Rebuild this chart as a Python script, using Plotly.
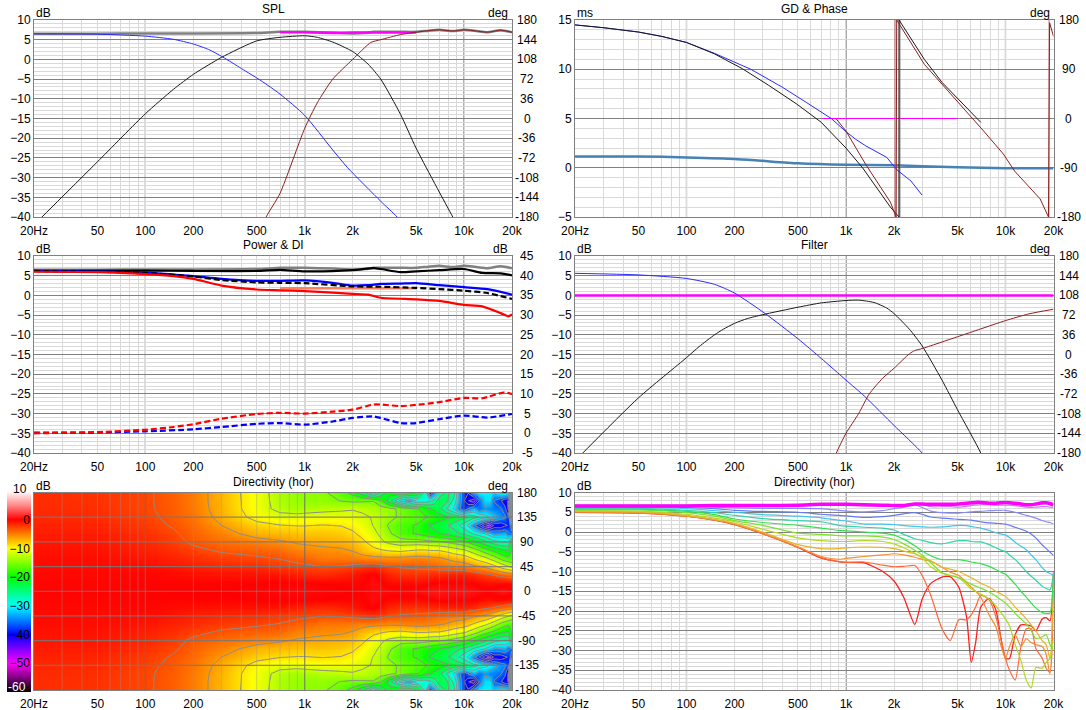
import math
import plotly.graph_objects as go

W, H = 1086, 710
FONT = "Liberation Sans"

X_TICKS = [20, 50, 100, 200, 500, 1000, 2000, 5000, 10000, 20000]
X_LABELS = ["20Hz", "50", "100", "200", "500", "1k", "2k", "5k", "10k", "20k"]
X_DECADES = [100, 1000, 10000]
X_MINOR = [30, 40, 60, 70, 80, 90, 300, 400, 600, 700, 800, 900,
           3000, 4000, 6000, 7000, 8000, 9000]

DB_TICKS = [10, 5, 0, -5, -10, -15, -20, -25, -30, -35, -40]
MS_TICKS = [15, 10, 5, 0, -5]
DEG_TICKS = [180, 144, 108, 72, 36, 0, -36, -72, -108, -144, -180]
DEG90_TICKS = [180, 90, 0, -90, -180]
DI_TICKS = [45, 40, 35, 30, 25, 20, 15, 10, 5, 0, -5]
DEG45_TICKS = [180, 135, 90, 45, 0, -45, -90, -135, -180]
CB_TICKS = [0, -10, -20, -30, -40, -50]

# SPL panel
TOTAL_F = [20, 50, 100, 200, 500, 700, 1000, 1500, 2000, 2400, 2700, 3000, 4000, 5000, 6000, 7000, 8500, 10000, 12000, 14000, 17000, 20000]
TOTAL = [6.5, 6.5, 6.6, 6.6, 6.7, 7.0, 7.0, 6.8, 6.6, 6.7, 7.0, 7.0, 7.0, 7.0, 7.3, 7.5, 7.2, 7.5, 7.2, 6.9, 7.4, 6.9]
SUM_F = [700, 1000, 1500, 2000, 3000, 5000]
SUM = [6.9, 6.9, 6.7, 6.8, 6.8, 6.8]
WOOF_F = [20, 50, 100, 150, 200, 250, 306, 400, 532, 700, 1000, 1500, 1860, 3000, 3800, 4500]
WOOF = [6.5, 6.4, 5.9, 5.1, 3.9, 2.5, 0.6, -2.3, -5.4, -8.8, -14.2, -23, -27.5, -36, -40, -44]
MID_F = [20, 50, 100, 150, 200, 300, 500, 700, 1000, 1200, 1500, 2000, 2500, 3000, 4000, 5000, 8500, 10000]
MID = [-42, -26, -13.8, -7.6, -3.8, 0.5, 4.7, 5.6, 6.0, 5.6, 4.4, 2.0, -1.2, -5.0, -14, -22.5, -40, -45]
TW_F = [500, 573, 700, 1000, 1200, 1500, 2000, 2600, 3000, 4000, 5000, 6000, 7000, 8500, 10000, 12000, 14000, 17000, 20000]
TW = [-46, -40, -34, -17.5, -11, -5, 0, 4.3, 5.0, 6.3, 6.9, 7.3, 7.5, 7.2, 7.5, 7.2, 6.9, 7.4, 6.9]

# GD & Phase panel
GD_F = [20, 50, 100, 200, 300, 500, 1000, 2000, 3000, 5000, 10000, 20000]
GD = [1.15, 1.15, 1.05, 0.9, 0.7, 0.45, 0.3, 0.25, 0.15, 0.05, -0.05, -0.05]
PH_BLUE_F = [20, 30, 50, 70, 100, 150, 253, 400, 567, 808, 1000, 1150, 1330, 1800, 2090, 2550, 3000]
PH_BLUE = [171, 166, 158, 150, 139, 119, 90, 57, 29, 0, -24, -38, -50, -71, -94, -114, -140]
PH_BLACK_F = [20, 30, 50, 70, 100, 150, 224, 326, 488, 700, 1000, 1270, 1900, 2150, 2151, 3100, 4000, 7000]
PH_BLACK = [171, 166, 158, 150, 139, 118, 91, 61, 27, -7, -54, -90, -162, -180, 180, 108, 66, -7]
PH_BROWN_F = [865, 1000, 1330, 1900, 2060, 2080, 3100, 5200, 7300, 9700, 11400, 16500, 18600, 18900, 20000]
PH_BROWN = [0, -23, -84, -153, -180, 180, 99, 26, -23, -65, -96, -147, -180, 175, 150]
PH_SUM_F = [711, 5000]
PH_SUM = [0, 0]
PH_WRAP_F = [2040, 2040]
PH_WRAP2_F = [2170, 2170]
PH_WRAP3_F = [18750, 18750]
PH_WRAP = [-180, 180]

# Power & DI panel
PW_BLACK_F = [20, 100, 200, 500, 700, 1000, 2000, 2700, 3000, 4000, 5000, 7000, 10000, 13000, 17000, 20000]
PW_BLACK = [6.2, 6.3, 6.2, 6.2, 6.5, 6.1, 6.4, 6.9, 6.7, 5.9, 6.1, 6.4, 6.7, 5.7, 5.6, 5.1]
PW_BLUE_F = [20, 100, 150, 200, 300, 500, 700, 1000, 1500, 2000, 2500, 3000, 4000, 5000, 7000, 10000, 14000, 20000]
PW_BLUE = [6.2, 5.8, 5.3, 4.9, 4.2, 3.7, 3.7, 3.8, 3.2, 2.5, 2.6, 2.9, 3.0, 3.1, 2.6, 2.1, 1.6, 0.2]
PW_DASH_F = [20, 100, 200, 300, 500, 700, 1000, 2000, 3000, 5000, 7000, 10000, 14000, 20000]
PW_DASH = [6.2, 5.7, 4.8, 3.9, 3.3, 3.2, 3.1, 2.3, 2.2, 1.9, 1.6, 1.2, 0.6, -0.9]
PW_RED_F = [20, 50, 100, 150, 200, 300, 500, 700, 1000, 2000, 2500, 3000, 5000, 7000, 10000, 13000, 17000, 19000, 20000]
PW_RED = [6.0, 5.9, 5.4, 4.9, 4.2, 2.5, 1.5, 1.3, 1.1, 0.4, 0.2, -0.6, -1.0, -1.4, -2.4, -2.8, -4.5, -5.3, -4.8]
PW_SALMON_F = [700, 5000]
PW_SALMON = [1.8, 1.8]
DI_RED_F = [20, 50, 100, 150, 200, 300, 500, 700, 1000, 1500, 2000, 2700, 3000, 4000, 5000, 7000, 10000, 13000, 18000, 20000]
DI_RED = [0, 0.3, 0.9, 1.6, 2.3, 3.7, 4.9, 5.2, 5.0, 5.5, 6.0, 7.3, 7.3, 6.9, 7.2, 7.9, 9.0, 8.9, 10.4, 9.9]
DI_BLUE_F = [20, 50, 100, 200, 300, 500, 700, 1000, 1500, 2000, 2700, 3000, 4000, 5000, 7000, 10000, 14000, 20000]
DI_BLUE = [0.2, 0.2, 0.5, 1.0, 1.6, 2.4, 2.6, 2.2, 3.0, 3.9, 4.3, 3.9, 2.6, 2.6, 3.6, 4.5, 4.0, 4.9]

# Filter panel
FL_BLUE_F = [20, 50, 100, 150, 200, 311, 500, 700, 1000, 1300, 2000, 3000, 3500]
FL_BLUE = [5.6, 5.2, 4.3, 2.8, 0.6, -4.6, -11, -16, -21.5, -25.5, -33, -40, -44]
FL_BLACK_F = [20, 50, 100, 120, 150, 170, 200, 240, 300, 500, 700, 1000, 1200, 1500, 1800, 2000, 2500, 3000, 4000, 5000, 7000, 8000]
FL_BLACK = [-42, -26, -15.8, -13, -10, -8.6, -7.1, -5.9, -4.9, -3, -1.9, -1.3, -1.2, -1.8, -3.2, -4.6, -8.6, -12.8, -21.5, -29, -40, -46]
FL_BROWN_F = [800, 870, 1000, 1200, 1400, 1700, 2000, 2500, 2700, 3000, 5000, 7000, 10000, 14000, 20000]
FL_BROWN = [-44, -40, -35, -30, -25, -21, -18.5, -14.8, -14, -13.5, -10.5, -8.5, -6.4, -4.7, -3.5]
FL_FLAT_F = [20, 20000]
FL_FLAT = [0, 0]

# Directivity: one curve per angle, all on the same frequencies
DIR_F = [20, 50, 100, 150, 200, 300, 500, 700, 900, 1000, 1300, 1700, 2000, 2300, 2700, 3000, 3400, 4000, 4500,
         5100, 5700, 6100, 6500, 7000, 7900, 8700, 9400, 10000, 10600, 11500, 12500, 13500, 14500, 15500, 17000, 18000, 19000, 20000]
DIR_ANGLES = [0, 15, 30, 45, 60, 75, 90, 105, 120, 135, 150, 165, 180]
DIR_0 = [6.6, 6.6, 6.6, 6.7, 6.7, 6.7, 6.8, 7.0, 7.0, 7.0, 6.9, 6.8, 6.7, 6.7, 7.1, 7.1, 7.0, 7.0, 7.0, 7.1, 7.3, 7.4, 7.5, 7.5, 7.3, 7.3, 7.4, 7.5, 7.4, 7.3, 7.1, 6.9, 6.9, 7.1, 7.4, 7.4, 7.2, 6.9]
DIR_15 = [6.5, 6.5, 6.6, 6.6, 6.6, 6.6, 6.7, 6.8, 6.8, 6.8, 6.7, 6.6, 6.5, 6.6, 7.2, 6.9, 6.4, 6.4, 6.4, 6.3, 6.5, 6.7, 6.8, 6.9, 6.9, 6.8, 6.8, 6.8, 6.8, 6.7, 6.5, 6.3, 6.2, 6.3, 6.4, 6.4, 6.3, 6.2]
DIR_30 = [6.4, 6.4, 6.5, 6.3, 6.1, 6.0, 6.0, 5.9, 5.5, 5.3, 5.1, 5.4, 5.9, 6.3, 6.9, 6.2, 5.3, 4.9, 4.8, 4.8, 5.0, 5.1, 5.2, 5.2, 5.4, 5.5, 5.5, 5.5, 5.3, 5.0, 4.6, 4.2, 3.9, 3.5, 2.9, 2.6, 2.4, 2.1]
DIR_45 = [6.3, 6.3, 6.2, 5.9, 5.5, 5.2, 5.0, 4.5, 4.2, 4.1, 3.7, 3.9, 4.2, 4.6, 4.9, 4.5, 3.8, 3.5, 3.4, 3.2, 3.1, 3.0, 2.8, 2.6, 2.3, 2.2, 2.1, 2.0, 1.7, 1.2, 0.7, 0.2, -0.5, -1.5, -3.3, -4.2, -5.1, -6.0]
DIR_60 = [6.2, 6.2, 5.9, 5.4, 5.0, 4.4, 4.0, 3.6, 3.0, 2.8, 2.0, 2.0, 1.9, 1.6, 1.4, 1.3, 1.2, 1.3, 1.5, 1.7, 1.6, 1.4, 1.2, 1.0, 0.4, -0.2, -0.5, -0.8, -1.4, -2.6, -3.6, -4.5, -5.8, -7, -9, -10, -10.5, -10.9]
DIR_75 = [6.0, 6.0, 5.5, 4.9, 4.2, 3.4, 2.9, 2.6, 1.7, 1.5, 1.2, 1.0, 0.5, -0.6, -1.7, -2.1, -2.7, -3, -2.6, -2.2, -2.2, -2.4, -2.5, -2.5, -3.2, -4, -4.6, -5, -5.8, -7, -8.5, -10, -11.2, -12.2, -13.7, -14.3, -14.7, -11]
DIR_90 = [5.8, 5.8, 5.2, 4.4, 3.3, 2.4, 1.7, 1.0, 0.4, 0.3, 0.0, -0.3, -0.8, -1.8, -3.5, -4.8, -6.0, -7, -7, -7, -7.3, -7.6, -7.8, -8, -8.7, -9.5, -10.2, -10.7, -11.7, -13.2, -15, -16.5, -18, -19.2, -20.4, -20.6, -20.5, -10.5]
DIR_105 = [5.6, 5.6, 4.9, 4.0, 2.9, 1.7, -0.3, -0.6, -0.9, -1, -1, -1.3, -1.9, -3, -4.6, -5.8, -7.8, -10.3, -11, -11.6, -12.6, -13.2, -13.7, -14.2, -15.2, -16.2, -17.2, -18, -19, -20.6, -22, -23.3, -25, -27, -26.5, -26, -28.5, -30]
DIR_120 = [5.4, 5.3, 4.5, 3.5, 2.6, 0.7, -1.5, -2.2, -2.4, -2.4, -2.2, -2.4, -3, -4, -5.4, -6.6, -8.8, -10.4, -11, -11.6, -13.3, -14.4, -15, -15.7, -17, -18.7, -20.5, -22, -23.8, -28.5, -32.5, -37.5, -39.5, -34.3, -34.5, -33, -32, -27]
DIR_135 = [5.2, 5.1, 4.2, 3.2, 2.2, 0, -3.2, -4.2, -4.2, -4, -3.8, -3.9, -4.2, -4.8, -5.5, -6.3, -7.3, -8.9, -9.4, -10, -11, -11.6, -12.2, -13, -13.9, -15, -15.7, -16.3, -17.3, -19, -20.5, -22, -23.5, -25, -27.5, -28.5, -32, -10.5]
DIR_150 = [5.1, 4.9, 4.0, 3.1, 2.0, -0.3, -3.8, -6.2, -6.9, -6.7, -6.2, -5.8, -5.5, -5.8, -6.4, -6.9, -7.4, -8.9, -10.2, -11, -12.8, -14, -15, -16.5, -21, -24, -29, -32, -29, -26, -29, -27, -28, -28.5, -29, -31, -36, -11]
DIR_165 = [5.0, 4.8, 4.0, 3.0, 1.9, -0.4, -3.8, -6.5, -7.5, -7.7, -7.6, -8.4, -8.8, -8.7, -8.5, -11, -16, -24.5, -27.5, -22.2, -22.2, -21, -19, -16, -17.2, -21.4, -27.3, -32, -35, -37.5, -29, -24.5, -24.5, -29.5, -32, -34.5, -35.5, -15]
DIR_180 = [5.0, 4.8, 4.0, 3.0, 1.9, -0.4, -3.9, -6.6, -7.5, -7.7, -7.8, -10, -12.4, -16.5, -23.4, -17, -13, -11.4, -11.3, -14, -21.5, -33, -28, -19, -16.8, -19.7, -27.3, -32, -32, -26, -23.5, -23.5, -23.8, -25, -22, -21.7, -22.5, -10]
DIR_ALL = [DIR_0, DIR_15, DIR_30, DIR_45, DIR_60, DIR_75, DIR_90, DIR_105, DIR_120, DIR_135, DIR_150, DIR_165, DIR_180]
DIR_COLORS = ["#ff00ff", "#d070f8", "#8888ff", "#6478f0", "#40c4e8", "#30d4a8", "#30e050", "#80e030",
              "#b4d820", "#e8b428", "#f09030", "#ff6838", "#ff2020"]
DIR_WIDTHS = [3.5, 1.2, 1.2, 1.2, 1.2, 1.2, 1.2, 1.2, 1.2, 1.2, 1.2, 1.2, 1.3]
DIR_NORM = 6.7

COLOR_LEVELS = [-60, -55, -50, -45, -40, -35, -30, -25, -20, -15, -10, -5, 0, 5, 10]
COLOR_VALUES = ["#000000", "#800080", "#ff00ff", "#8000ff", "#0000ff", "#0080ff", "#00ffff", "#00ff80", "#00ff00",
                "#80ff00", "#ffff00", "#ff8000", "#ff0000", "#ff8888", "#ffffff"]

GRID_DARK = "#808080"
GRID_LIGHT = "#d9d9d9"
BLUE = "#2a2aff"
BLACK = "#1a1a1a"
BROWN = "#8b2020"

# Panel rectangles in pixels: left, right, top, bottom
PANELS = {
    1: (34, 512, 20, 217),
    2: (575, 1053.5, 20, 217),
    3: (34, 512, 256, 453),
    4: (575, 1053.5, 256, 453),
    5: (34, 512, 492.5, 690),
    6: (575, 1053.5, 492.5, 690),
}
TITLES = {1: "SPL", 2: "GD & Phase", 3: "Power & DI", 4: "Filter", 5: "Directivity (hor)", 6: "Directivity (hor)"}
LEFT_UNIT = {1: "dB", 2: "ms", 3: "dB", 4: "dB", 5: "dB", 6: "dB"}
RIGHT_UNIT = {1: "deg", 2: "deg", 3: "dB", 4: "deg", 5: "deg"}
LEFT_TICKS = {1: DB_TICKS, 2: MS_TICKS, 3: DB_TICKS, 4: DB_TICKS, 6: DB_TICKS}
RIGHT_TICKS = {1: DEG_TICKS, 2: DEG90_TICKS, 3: DI_TICKS, 4: DEG_TICKS, 5: DEG45_TICKS}

fig = go.Figure()
layout = dict(width=W, height=H, margin=dict(l=0, r=0, t=0, b=0, autoexpand=False), paper_bgcolor="white", plot_bgcolor="white",
              showlegend=False, font=dict(family=FONT, size=12, color="black"))
annotations, shapes = [], []


def xn(p):
    return "x" if p == 1 else f"x{p}"


def yn(p):
    return "y" if p == 1 else f"y{p}"


def text(x, y, s, anchor="center", color="black"):
    annotations.append(dict(x=x / W, y=1 - y / H, xref="paper", yref="paper", text=s, showarrow=False,
                            xanchor=anchor, yanchor="middle", font=dict(size=12, family=FONT, color=color), borderpad=0))


for p, (l, r, t, b) in PANELS.items():
    xname = "xaxis" if p == 1 else f"xaxis{p}"
    yname = "yaxis" if p == 1 else f"yaxis{p}"
    layout[xname] = dict(type="log", range=[math.log10(20), math.log10(20000)],
                         domain=[l / W, r / W], anchor=yn(p), ticklabelstandoff=3,
                         tickvals=X_TICKS, ticktext=X_LABELS, ticklen=0, showgrid=True, gridcolor=GRID_LIGHT, gridwidth=1,
                         minor=dict(tickvals=X_MINOR, showgrid=True, gridcolor=GRID_LIGHT, gridwidth=1, ticklen=0),
                         showline=True, linecolor=GRID_DARK, linewidth=1, mirror=True, zeroline=False,
                         tickfont=dict(size=12, family=FONT, color="black"), tickangle=0)
    if p == 5:
        layout[yname] = dict(range=[-180, 180], domain=[1 - b / H, 1 - t / H], anchor=xn(p), showticklabels=False,
                             ticklen=0, tickvals=DEG45_TICKS, showgrid=False, zeroline=False,
                             showline=True, linecolor=GRID_DARK, linewidth=1, mirror=True)
    else:
        ticks = LEFT_TICKS[p]
        lo, hi = min(ticks), max(ticks)
        minor_vals = [v for v in range(lo, hi + 1) if v % 5 != 0]
        layout[yname] = dict(range=[lo, hi], domain=[1 - b / H, 1 - t / H], anchor=xn(p), tickvals=ticks, ticklen=0,
                             showgrid=True, gridcolor=GRID_DARK, gridwidth=1, zeroline=False,
                             minor=dict(tickvals=minor_vals, showgrid=True, gridcolor=GRID_LIGHT, gridwidth=1, ticklen=0),
                             showline=True, linecolor=GRID_DARK, linewidth=1, mirror=True,
                             tickfont=dict(size=12, family=FONT, color="black"))
    for d in X_DECADES:
        shapes.append(dict(type="line", xref=xn(p), yref=f"{yn(p)} domain", x0=d, x1=d, y0=0, y1=1,
                           line=dict(color="rgba(110,110,110,0.8)" if p == 5 else "#707070", width=1.2),
                           layer="above" if p == 5 else "below"))
    text((l + r) / 2, t - 11, TITLES[p])
    text(l + 1, t - 7, LEFT_UNIT[p], anchor="left")
    if p in RIGHT_UNIT:
        text(r - 3, t - 7, RIGHT_UNIT[p], anchor="right")
        rt = RIGHT_TICKS[p]
        rlo, rhi = min(rt), max(rt)
        for v in rt:
            text(r + 15, b - (v - rlo) / (rhi - rlo) * (b - t), str(v))

# overlay axes carrying the phase and DI curves
layout["yaxis7"] = dict(range=[-180, 180], overlaying="y2", side="right", anchor="x2", showticklabels=False,
                        showgrid=False, zeroline=False, ticklen=0)
layout["yaxis8"] = dict(range=[-5, 45], overlaying="y3", side="right", anchor="x3", showticklabels=False,
                        showgrid=False, zeroline=False, ticklen=0)


def line(p, xs, ys, color, width=1, dash=None, yaxis=None, shape="spline"):
    fig.add_trace(go.Scatter(x=xs, y=ys, mode="lines", xaxis=xn(p), yaxis=yaxis or yn(p),
                             line=dict(color=color, width=width, dash=dash, shape=shape, smoothing=0.6),
                             hoverinfo="skip"))


# Panel 1
line(1, TOTAL_F, TOTAL, "#808080", 2.5)
line(1, SUM_F, SUM, "#ff00ff", 2.5)
line(1, MID_F, MID, BLACK)
line(1, WOOF_F, WOOF, BLUE)
line(1, TW_F, TW, BROWN)

# Panel 2
line(2, GD_F, GD, "#4682b4", 2.5)
line(2, PH_SUM_F, PH_SUM, "#ff00ff", 1, yaxis="y7", shape="linear")
line(2, PH_WRAP_F, PH_WRAP, "rgba(180,90,90,0.5)", 2.5, yaxis="y7", shape="linear")
line(2, PH_WRAP2_F, PH_WRAP, "rgba(110,110,110,0.6)", 2, yaxis="y7", shape="linear")
line(2, PH_WRAP3_F, PH_WRAP, "rgba(180,90,90,0.4)", 2, yaxis="y7", shape="linear")
line(2, PH_BLUE_F, PH_BLUE, BLUE, yaxis="y7", shape="linear")
line(2, PH_BLACK_F, PH_BLACK, BLACK, yaxis="y7", shape="linear")
line(2, PH_BROWN_F, PH_BROWN, BROWN, yaxis="y7", shape="linear")

# Panel 3
line(3, TOTAL_F, TOTAL, "#808080", 2.5)
line(3, PW_SALMON_F, PW_SALMON, "#ff8060", 2.5)
line(3, PW_BLACK_F, PW_BLACK, "#000000", 2.2)
line(3, PW_BLUE_F, PW_BLUE, "#0000ff", 2.2)
line(3, PW_DASH_F, PW_DASH, "#000000", 2.2, dash="6px,3px")
line(3, PW_RED_F, PW_RED, "#ff0000", 2.2)
line(3, DI_BLUE_F, DI_BLUE, "#0000ff", 2.2, dash="6px,3px", yaxis="y8")
line(3, DI_RED_F, DI_RED, "#ff0000", 2.2, dash="6px,3px", yaxis="y8")

# Panel 4
line(4, FL_FLAT_F, FL_FLAT, "#ff00ff", 2.5, shape="linear")
line(4, FL_BLUE_F, FL_BLUE, BLUE)
line(4, FL_BLACK_F, FL_BLACK, BLACK)
line(4, FL_BROWN_F, FL_BROWN, BROWN)

# Panel 5: map built from the directivity curves, mirrored around 0 degrees
rows = list(reversed(DIR_ALL)) + DIR_ALL[1:]
y_angles = [-a for a in reversed(DIR_ANGLES)] + DIR_ANGLES[1:]
z = [[v - DIR_NORM for v in row] for row in rows]
scale = [[(v - COLOR_LEVELS[0]) / (COLOR_LEVELS[-1] - COLOR_LEVELS[0]), c] for v, c in zip(COLOR_LEVELS, COLOR_VALUES)]
fig.add_trace(go.Heatmap(x=DIR_F, y=y_angles, z=z, xaxis="x5", yaxis="y5", zmin=COLOR_LEVELS[0], zmax=COLOR_LEVELS[-1],
                         colorscale=scale, zsmooth="best", hoverinfo="skip", showscale=True,
                         colorbar=dict(x=7 / W, xanchor="left", xpad=0, y=1 - 491 / H, yanchor="top", ypad=0,
                                       lenmode="pixels", len=201, thicknessmode="pixels", thickness=24, outlinewidth=0,
                                       ticks="", ticklabelposition="inside", tickvals=CB_TICKS,
                                       tickfont=dict(size=12, family=FONT, color="black"))))
fig.add_trace(go.Contour(x=DIR_F, y=y_angles, z=z, xaxis="x5", yaxis="y5", showscale=False, autocontour=False,
                         contours=dict(coloring="none", start=-60, end=-3, size=3, showlabels=False),
                         line=dict(color="#8c8c8c", width=1, smoothing=0), hoverinfo="skip"))
for v in DEG45_TICKS[1:-1]:
    shapes.append(dict(type="line", xref="x5 domain", yref="y5", x0=0, x1=1, y0=v, y1=v,
                       line=dict(color="rgba(120,120,120,0.85)", width=1.2), layer="above"))
for v in X_TICKS[1:-1] + X_MINOR:
    if v not in X_DECADES:
        shapes.append(dict(type="line", xref="x5", yref="y5 domain", x0=v, x1=v, y0=0, y1=1,
                           line=dict(color="rgba(150,150,150,0.4)", width=1), layer="above"))
text(28, 489, "10", anchor="right")
text(27, 687, "-60", anchor="right", color="white")

# Panel 6
for i in reversed(range(len(DIR_ALL))):
    line(6, DIR_F, DIR_ALL[i], DIR_COLORS[i], DIR_WIDTHS[i])

layout["annotations"] = annotations
layout["shapes"] = shapes
fig.update_layout(**layout)
fig.write_html("out.html", config={"displayModeBar": False},
               post_script="document.body.style.margin='0';document.body.style.overflow='hidden';")
